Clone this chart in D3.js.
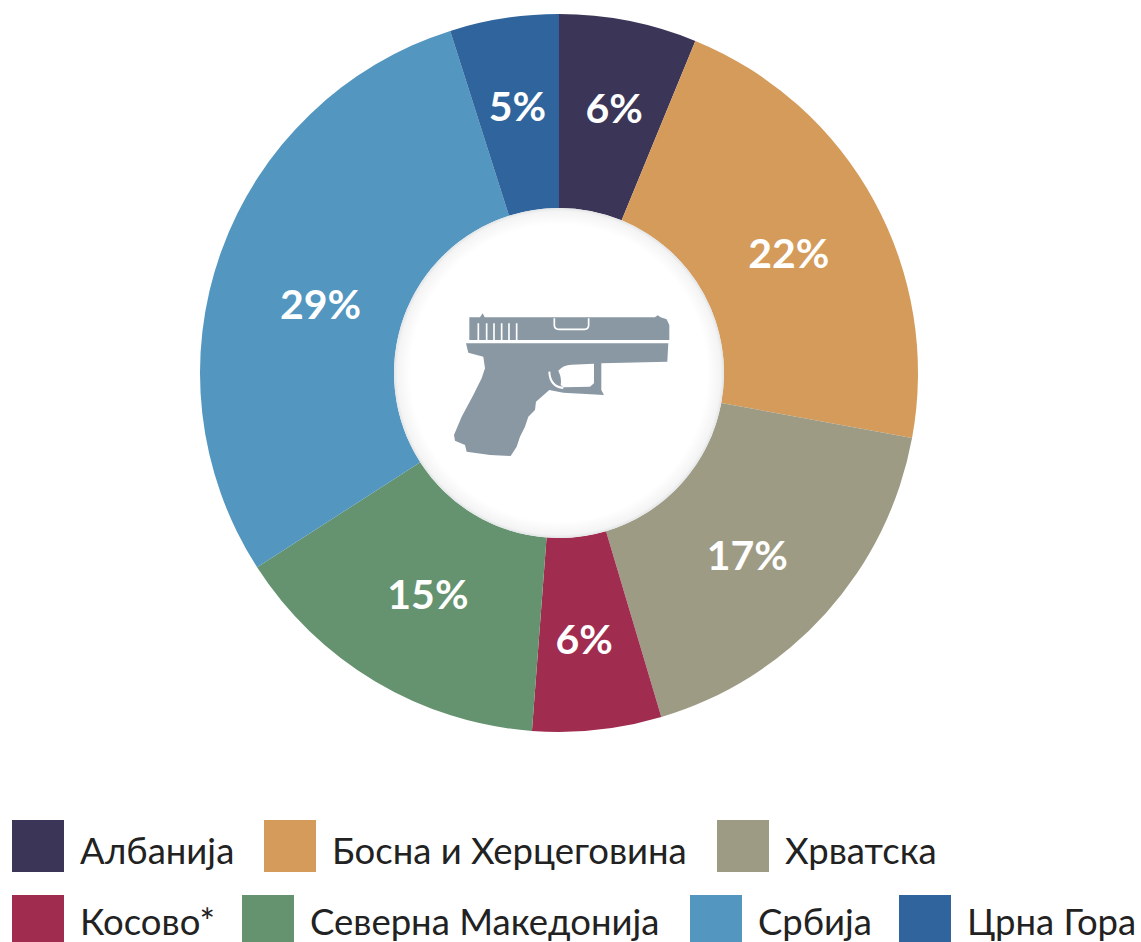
<!DOCTYPE html>
<html>
<head>
<meta charset="utf-8">
<script src="https://cdn.jsdelivr.net/npm/d3@7"></script>
<style>
  html, body { margin: 0; padding: 0; background: #fff; overflow: hidden; }
  text { font-family: Lato, "Open Sans", "Noto Sans", sans-serif; }
</style>
</head>
<body>
<div id="chart"></div>
<script>
var countries = ['Албанија', 'Босна и Херцеговина', 'Хрватска', 'Косово*', 'Северна Македонија', 'Србија', 'Црна Гора'];
var shares = [6.2, 21.7, 17.5, 5.8, 14.7, 29.2, 4.9];
var shareLabels = ['6%', '22%', '17%', '6%', '15%', '29%', '5%'];
var colors = ['#3b3558', '#d49b5b', '#9e9b84', '#a02c50', '#65936f', '#5396c0', '#2f659c'];

var width = 1141, height = 942;
var cx = 559, cy = 373, outerR = 359, innerR = 165;

var svg = d3.select('#chart').append('svg')
  .attr('width', width)
  .attr('height', height);

var shadow = svg.append('defs').append('radialGradient').attr('id', 'holeShadow');
shadow.append('stop').attr('offset', '90%').attr('stop-color', '#fff');
shadow.append('stop').attr('offset', '98%').attr('stop-color', '#f4f4f4');
shadow.append('stop').attr('offset', '100%').attr('stop-color', '#e2e4e6');

var pie = d3.pie().sort(null).value(function(d) { return d; });
var arc = d3.arc().innerRadius(innerR).outerRadius(outerR);
var labelArc = d3.arc().innerRadius(264).outerRadius(264);

// the labels are hand placed in the picture, not quite on the centroid
var labelShift = [[4, -6], [-2, 7], [-8, 6], [-3, 4], [4, -6], [10, 21], [-1, -6]];

var slices = svg.append('g').attr('transform', 'translate(' + cx + ',' + cy + ')');

slices.selectAll('path')
  .data(pie(shares))
  .enter().append('path')
  .attr('d', arc)
  .attr('fill', function(d, i) { return colors[i]; });

slices.append('circle')
  .attr('r', innerR)
  .attr('fill', 'url(#holeShadow)');

slices.selectAll('text')
  .data(pie(shares))
  .enter().append('text')
  .attr('transform', function(d, i) {
    var c = labelArc.centroid(d);
    return 'translate(' + (c[0] + labelShift[i][0]) + ',' + (c[1] + labelShift[i][1]) + ')';
  })
  .attr('text-anchor', 'middle')
  .attr('dy', '0.36em')
  .attr('fill', '#fff')
  .attr('font-size', 41)
  .attr('font-weight', 700)
  .text(function(d, i) { return shareLabels[i]; });

// pistol icon, drawn on a 3x grid
var gun = slices.append('g').attr('transform', 'translate(-169,-163) scale(0.3333)');
gun.append('path')
  .attr('fill', '#8a98a4')
  .attr('d', 'M238 322L270 322L278 310L284 322L795 322L803 316L812 322L830 328L838 345L838 390L238 390Z' +
    'M228 400L835 400L832 455L634 460L634 540L642 555L520 548L478 540L455 560L438 575L435 600L415 620L405 650L390 680L380 710L362 738L300 735L230 725L225 705L195 692L192 675L215 620L250 555L275 505L285 475L280 440L235 428Z');
gun.append('path')
  .attr('fill', '#fff')
  .attr('d', 'M505 482Q520 464 545 464L612 461L612 520L600 530L520 532L512 525Q516 505 505 482Z');
gun.append('path')
  .attr('fill', 'none')
  .attr('stroke', '#fff')
  .attr('stroke-width', 6)
  .attr('d', 'M478 485Q480 530 520 534');
gun.append('path')
  .attr('fill', 'none')
  .attr('stroke', '#fff')
  .attr('stroke-width', 5)
  .attr('d', 'M493 325L493 345Q493 358 506 358L584 358Q596 358 596 345L596 325' +
    'M265 340V390M290 340V390M312 340V390M335 340V390M357 340V390M380 340V390');

// legend rows, split as in the picture
var legendRows = [[0, 1, 2], [3, 4, 5, 6]];
var legendX = [[12, 264, 717], [12, 242, 690, 899]];
var legendY = [820, 895];
var legendBaseline = [44, 40];
var swatch = 52;

legendRows.forEach(function(row, r) {
  var items = svg.append('g').selectAll('g')
    .data(row)
    .enter().append('g')
    .attr('transform', function(d, i) { return 'translate(' + legendX[r][i] + ',' + legendY[r] + ')'; });

  items.append('rect')
    .attr('width', swatch)
    .attr('height', swatch)
    .attr('fill', function(d) { return colors[d]; });

  items.append('text')
    .attr('x', swatch + 16)
    .attr('y', legendBaseline[r])
    .attr('font-size', 36.5)
    .attr('fill', '#222')
    .text(function(d) { return countries[d]; });
});
</script>
</body>
</html>
